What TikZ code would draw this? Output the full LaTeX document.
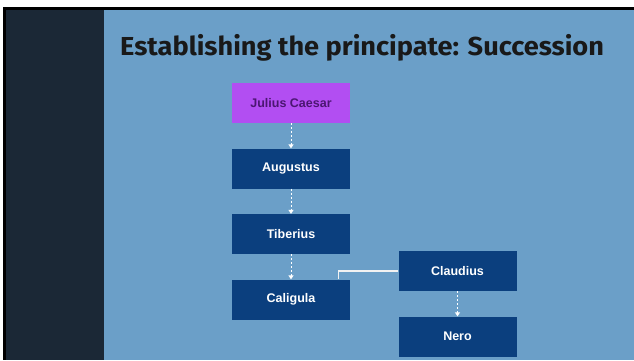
\documentclass[tikz,border=0pt]{standalone}
\usepackage{fontspec}
\setmainfont{Liberation Sans}
\newfontfamily\titlefont{Fira Sans}
\usetikzlibrary{arrows.meta}

\definecolor{slateblue}{HTML}{6B9FC8}
\definecolor{panelgrey}{HTML}{1B2836}
\definecolor{emperorblue}{HTML}{0B3F7E}
\definecolor{caesarpurple}{HTML}{B24EF2}
\definecolor{caesartext}{HTML}{4B1672}

\tikzset{emperor/.style={
    	fill=emperorblue, text=white, minimum width=118pt, minimum height=40pt,
    	inner sep=0pt, font=\bfseries\fontsize{12.5}{12.5}\selectfont
  	},
  	succession/.style={
    	white, line width=1pt, dash pattern=on 2pt off 2pt,
    	-{Triangle[width=5pt,length=4pt]}
  	}
}

\begin{document}
\begin{tikzpicture}[x=1pt, y=-1pt]
		\useasboundingbox (0,0) rectangle (634,360);
		% slide background
		\fill [white] (0,0) rectangle (634,360);
		\fill [slateblue] (104,10) rectangle (634,360);
		\fill [panelgrey] (6,10) rectangle (104,360);
		\fill [black] (2.5,6.5) rectangle (634,10);
		\fill [black] (2.5,6.5) rectangle (6,360);
		\node [anchor=base west, inner sep=0pt, xscale=1.045, text=black!90, font=\titlefont\bfseries\fontsize{26}{26}\selectfont] (title) at (120,55) {Establishing the principate: Succession};
		% emperors
		\node [emperor, fill=caesarpurple, text=caesartext] (jul) at (291,103) {Julius Caesar};
		\node [emperor] (aug) at (291,168.5) {Augustus};
		\node [emperor] (tib) at (291,234) {Tiberius};
		\node [emperor] (cal) at (291,299.5) {Caligula};
		\node [emperor] (cla) at (457.5,271) {Claudius};
		\node [emperor] (ner) at (457.5,336.5) {Nero};
		\foreach \a/\b in {jul/aug, aug/tib, tib/cal, cla/ner}
			\draw [succession] (\a) -- (\b);
		\coordinate (calcorner) at ([xshift=-12pt]cal.north east);
		\draw [white!90!gray, line width=1.2pt] (cla.west) -| (calcorner);
	\end{tikzpicture}
\end{document}
